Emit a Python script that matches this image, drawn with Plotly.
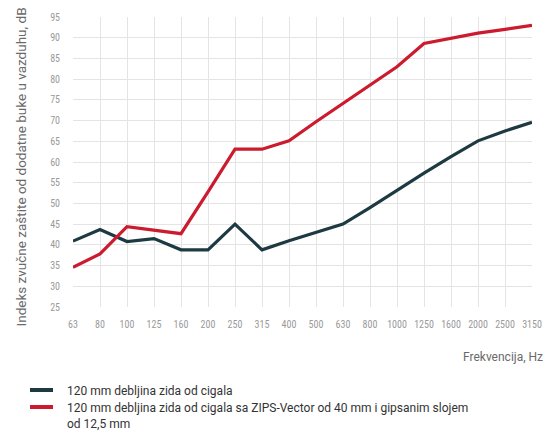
import plotly.graph_objects as go

freqs = ["63", "80", "100", "125", "160", "200", "250", "315", "400", "500",
         "630", "800", "1000", "1250", "1600", "2000", "2500", "3150"]
wall = [40.9, 43.7, 40.8, 41.5, 38.8, 38.8, 45.0, 38.8, 41.0, 43.0,
        45.0, 49.0, 53.2, 57.3, 61.3, 65.1, 67.5, 69.6]
wall_zips = [34.6, 37.8, 44.4, 43.6, 42.7, 52.8, 63.1, 63.1, 65.1, 69.7,
             74.1, 78.5, 83.0, 88.6, 89.9, 91.1, 92.0, 93.0]
name_wall = "120 mm debljina zida od cigala"
name_zips = "120 mm debljina zida od cigala sa ZIPS-Vector od 40 mm i gipsanim slojem<br>od 12,5 mm"
y_ticks = list(range(25, 100, 5))

COL_WALL = "#1d3a42"
COL_ZIPS = "#cc1a2e"

fig = go.Figure()
fig.add_trace(go.Scatter(x=freqs, y=wall, mode="lines", name=name_wall,
                         line=dict(color=COL_WALL, width=3.2)))
fig.add_trace(go.Scatter(x=freqs, y=wall_zips, mode="lines", name=name_zips,
                         line=dict(color=COL_ZIPS, width=3.2)))

tick_font = dict(family="Liberation Sans Narrow, Roboto Condensed, Arial Narrow, sans-serif",
                 size=10, color="#9a9a9a")

PW, PH, L, T = 459, 290, 73, 17
def px(x):
    return (x - L) / PW
def py(y):
    return (T + PH - y) / PH

legend_font = dict(family="Roboto, Arial, sans-serif", size=12, color="#333333")
shapes = []
annotations = []
for name, col, yc in [(name_wall, COL_WALL, 390), (name_zips, COL_ZIPS, 407)]:
    shapes.append(dict(type="line", xref="paper", yref="paper",
                       x0=px(30), x1=px(53), y0=py(yc), y1=py(yc),
                       line=dict(color=col, width=4)))
    annotations.append(dict(text=name, xref="paper", yref="paper", x=px(65), y=py(yc - 8),
                            xanchor="left", yanchor="top", align="left", showarrow=False,
                            font=legend_font))

annotations += [
    dict(text="Indeks zvučne zaštite od dodatne buke u vazduhu, dB",
         xref="paper", yref="paper", x=px(20), y=py(167.5),
         xanchor="center", yanchor="middle", textangle=-90, showarrow=False,
         font=dict(family="Roboto, Arial, sans-serif", size=13.5, color="#6a6a6a")),
    dict(text="Frekvencija, Hz", xref="paper", yref="paper", x=px(545), y=py(357),
         xanchor="right", yanchor="middle", showarrow=False,
         font=dict(family="Roboto, Arial, sans-serif", size=12, color="#6a6a6a")),
]

fig.update_layout(
    template="none",
    width=546, height=430,
    margin=dict(l=L, r=546 - L - PW, t=T, b=430 - T - PH, pad=0),
    paper_bgcolor="white", plot_bgcolor="white",
    showlegend=False,
    xaxis=dict(type="category", range=[0, 17], showgrid=True, gridcolor="#e4e4e4",
               gridwidth=1, showline=False, zeroline=False, ticks="",
               automargin=False,
               tickfont=tick_font, ticklabelstandoff=10, fixedrange=True),
    yaxis=dict(range=[25, 95], tickvals=y_ticks, showgrid=True, gridcolor="#e4e4e4",
               gridwidth=1, showline=False, zeroline=False, ticks="",
               automargin=False,
               tickfont=tick_font, ticklabelstandoff=12, fixedrange=True),
    shapes=shapes,
    annotations=annotations,
)

fig.write_html("out.html", config={"displayModeBar": False},
               post_script="document.body.style.margin='0';")
